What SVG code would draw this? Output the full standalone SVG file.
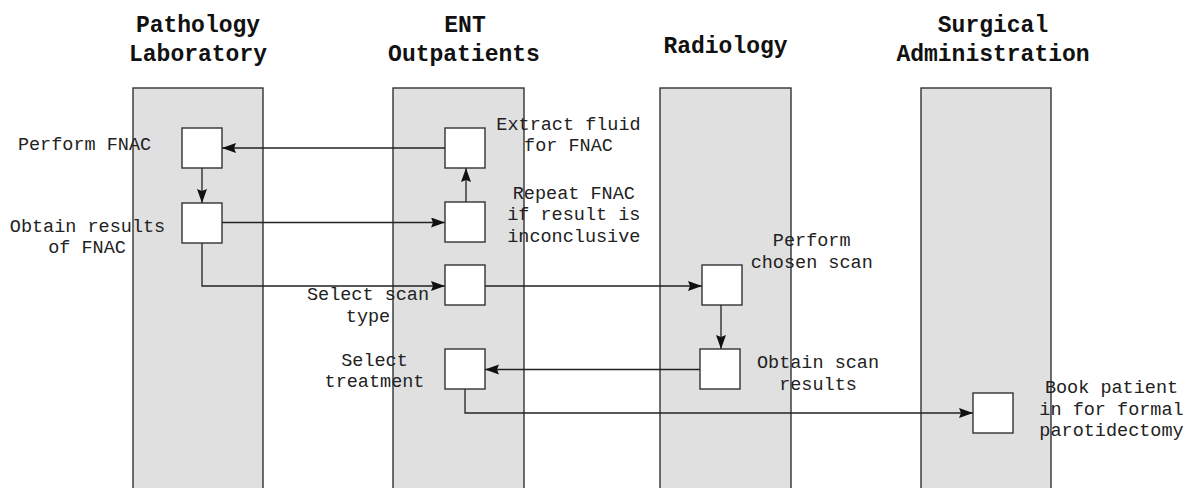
<svg xmlns="http://www.w3.org/2000/svg" width="1200" height="488" viewBox="0 0 1200 488">
<style>
.lane{fill:#e0e0e0;stroke:#333;stroke-width:1.4}
.box{fill:#fff;stroke:#333;stroke-width:1.4}
.hdr{font-family:"Liberation Mono","Courier New",monospace;font-weight:bold;font-size:23px;fill:#111;text-anchor:middle}
.lbl{font-family:"Liberation Mono","Courier New",monospace;font-size:18.5px;fill:#222;text-anchor:middle}
.conn{fill:none;stroke:#222;stroke-width:1.3;marker-end:url(#arr)}
</style>
<defs>
<marker id="arr" markerUnits="userSpaceOnUse" markerWidth="15" markerHeight="11" refX="14" refY="5" orient="auto">
<path d="M0,0 L14,5 L0,10 L2,5 z" fill="#111"/>
</marker>
</defs>
<g id="lanes">
<g id="lane-pathology">
<rect class="lane" x="133" y="88" width="130" height="410"/>
<text class="hdr" x="198" y="32">Pathology</text>
<text class="hdr" x="198" y="60.5">Laboratory</text>
</g>
<g id="lane-ent">
<rect class="lane" x="393" y="88" width="131" height="410"/>
<text class="hdr" x="465" y="32">ENT</text>
<text class="hdr" x="464" y="60.5">Outpatients</text>
</g>
<g id="lane-radiology">
<rect class="lane" x="660" y="88" width="131" height="410"/>
<text class="hdr" x="725.5" y="52.5">Radiology</text>
</g>
<g id="lane-surgical">
<rect class="lane" x="921" y="88" width="130" height="410"/>
<text class="hdr" x="993" y="32">Surgical</text>
<text class="hdr" x="993" y="60.5">Administration</text>
</g>
</g>
<g id="connectors">
<path class="conn" d="M445,148 L222,148"/>
<path class="conn" d="M202,168 L202,203"/>
<path class="conn" d="M222,222.5 L445,222.5"/>
<path class="conn" d="M466,202 L466,168"/>
<path class="conn" d="M202,243 L202,286 L445,286"/>
<path class="conn" d="M485,286 L702,286"/>
<path class="conn" d="M721,305 L721,349"/>
<path class="conn" d="M700,369.5 L485,369.5"/>
<path class="conn" d="M465,389 L465,413 L973,413"/>
</g>
<g id="n-perform-fnac">
<rect class="box" x="182" y="128" width="40" height="40"/>
<text class="lbl" x="84.5" y="150">Perform FNAC</text>
</g>
<g id="n-obtain-results">
<rect class="box" x="182" y="203" width="40" height="40"/>
<text class="lbl" x="87.5" y="231.5">Obtain results</text>
<text class="lbl" x="87" y="253">of FNAC</text>
</g>
<g id="n-extract-fluid">
<rect class="box" x="445" y="128" width="40" height="40"/>
<text class="lbl" x="568.5" y="129.5">Extract fluid</text>
<text class="lbl" x="568.5" y="151">for FNAC</text>
</g>
<g id="n-repeat-fnac">
<rect class="box" x="445" y="202" width="40" height="40"/>
<text class="lbl" x="573.8" y="198.5">Repeat FNAC</text>
<text class="lbl" x="573.8" y="220">if result is</text>
<text class="lbl" x="573.8" y="241.5">inconclusive</text>
</g>
<g id="n-select-scan">
<rect class="box" x="445" y="265" width="40" height="40"/>
<text class="lbl" x="368" y="300">Select scan</text>
<text class="lbl" x="368" y="321.5">type</text>
</g>
<g id="n-select-treatment">
<rect class="box" x="445" y="349" width="40" height="40"/>
<text class="lbl" x="374.5" y="365.5">Select</text>
<text class="lbl" x="374.5" y="387">treatment</text>
</g>
<g id="n-perform-scan">
<rect class="box" x="702" y="265" width="40" height="40"/>
<text class="lbl" x="811.7" y="246">Perform</text>
<text class="lbl" x="811.7" y="267.5">chosen scan</text>
</g>
<g id="n-obtain-scan">
<rect class="box" x="700" y="349" width="40" height="40"/>
<text class="lbl" x="818" y="368">Obtain scan</text>
<text class="lbl" x="818" y="389.5">results</text>
</g>
<g id="n-book-patient">
<rect class="box" x="973" y="393" width="40" height="40"/>
<text class="lbl" x="1111.5" y="393">Book patient</text>
<text class="lbl" x="1111.5" y="414.5">in for formal</text>
<text class="lbl" x="1111.5" y="436">parotidectomy</text>
</g>
</svg>
